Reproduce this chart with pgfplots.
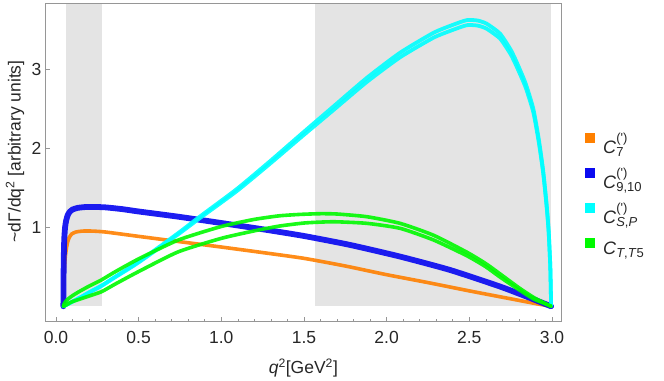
\documentclass[border=0pt]{standalone}
\usepackage{pgfplots}
\pgfplotsset{compat=1.18}
\usepackage{fontspec}
\setmainfont{Liberation Sans}
\definecolor{cOrange}{RGB}{255,128,0}
\definecolor{cBlue}{RGB}{10,10,240}
\definecolor{cCyan}{RGB}{0,255,255}
\definecolor{cGreen}{RGB}{0,250,0}
\definecolor{shade}{RGB}{228,228,228}
\definecolor{frame}{RGB}{150,150,150}
\newcommand\fsz[1]{\fontsize{#1}{#1}\selectfont}
\newcommand\Cw[2]{\textit{C}\rlap{\raisebox{11.5bp}{\fsz{13bp}(\textquotesingle)}}\raisebox{-3bp}{\fsz{13bp}#2}}
\begin{document}
\begin{tikzpicture}
\begin{axis}[
  name=main,
  scale only axis,
  width=516.7bp, height=318.4bp,
  xmin=-0.0665, xmax=3.059,
  ymin=-0.195, ymax=3.835,
  axis on top,
  axis line style={frame, line width=0.7bp},
  xtick={0,0.5,1,1.5,2,2.5,3},
  minor x tick num=4,
  ytick={1,2,3},
  xtick pos=bottom, ytick pos=left,
  tick align=inside,
  major tick length=5bp, minor tick length=3bp,
  tick style={frame, line width=0.6bp},
  /pgf/number format/assume math mode=true,
  xticklabel style={/pgf/number format/.cd, fixed, fixed zerofill, precision=1, /tikz/.cd, anchor=base, inner sep=0pt, yshift=-21.5bp},
  yticklabel style={anchor=east, inner sep=0pt, xshift=-3.5bp},
  tick label style={font=\fsz{17.5bp}, text=black!85},
  every axis x label/.style={at={(axis description cs:0.5,-0.145)}, anchor=center, font=\fsz{17.5bp}, text=black!85},
  every axis y label/.style={at={(axis description cs:-0.058,0.535)}, anchor=center, rotate=90, font=\fsz{17.5bp}, text=black!85},
  xlabel={\textit{q}\textsuperscript{2}[GeV\textsuperscript{2}]},
  ylabel={\textasciitilde dΓ/dq\textsuperscript{2} [arbitrary units]},
  legend image code/.code={\fill[#1, draw=none, opacity=1] (0bp,1bp) rectangle (10bp,11bp);},
  legend style={draw=none, fill=none, at={(1.0451,0.40)}, anchor=west, inner sep=0pt,
    row sep=12.5bp, font=\fsz{18bp}, nodes={inner sep=0pt, text=black!85},
    /tikz/every odd column/.append style={column sep=8bp}},
  legend cell align={left},
]
% shaded bins
\addplot[fill=shade, draw=none, forget plot] coordinates {(0.06,3.835) (0.276,3.835)} \closedcycle;
\addplot[fill=shade, draw=none, forget plot] coordinates {(1.567,3.835) (2.993,3.835)} \closedcycle;

% C7
\addplot[color=cOrange, line width=3.6bp, opacity=0.9, smooth, tension=0.35, line cap=round, line join=round]
coordinates {(0.0447,0) (0.0465,0.25) (0.05,0.45) (0.055,0.6) (0.062,0.72) (0.07,0.81) (0.08,0.87) (0.095,0.915) (0.12,0.94) (0.16,0.952) (0.22,0.952) (0.3,0.94) (0.5,0.885) (0.74,0.82) (1.0,0.75) (1.25,0.68) (1.5,0.607) (1.75,0.51) (2.0,0.40) (2.25,0.30) (2.5,0.195) (2.75,0.095) (2.9,0.035) (2.995,0)};
\addlegendentry{\Cw{}{7}}

% C9,10
\addplot[color=cBlue, line width=5.8bp, opacity=0.92, smooth, tension=0.35, line cap=round, line join=round]
coordinates {(0.0447,0) (0.0455,0.3) (0.047,0.6) (0.05,0.85) (0.055,1.0) (0.062,1.09) (0.072,1.16) (0.085,1.2) (0.1,1.225) (0.13,1.245) (0.17,1.255) (0.22,1.258) (0.3,1.252) (0.4,1.23) (0.5,1.20) (0.74,1.134) (1.0,1.054) (1.25,0.975) (1.5,0.89) (1.78,0.776) (2.08,0.63) (2.383,0.46) (2.686,0.25) (2.85,0.12) (2.995,0)};
\addlegendentry{\Cw{}{9,10}}

% CS,P
\addplot[color=cCyan, line width=3.8bp, opacity=0.9, smooth, tension=0.35, line cap=round, line join=round]
coordinates {(0.0447,0) (0.07,0.0248) (0.1,0.0595) (0.15,0.114) (0.2,0.173) (0.276,0.258) (0.35,0.357) (0.5,0.555) (0.74,0.912) (0.86,1.100) (1.093,1.457) (1.3,1.814) (1.476,2.128) (1.678,2.483) (1.88,2.839) (2.081,3.151) (2.283,3.399) (2.4,3.498) (2.485,3.558) (2.55,3.553) (2.605,3.513) (2.686,3.389) (2.75,3.191) (2.787,3.032) (2.84,2.775) (2.887,2.458) (2.92,2.081) (2.947,1.685) (2.968,1.259) (2.98,0.941) (2.99,0.4955) (2.995,0)};
\addlegendentry{\Cw{}{\textit{S},\textit{P}}}
\addplot[color=cCyan, line width=3.8bp, opacity=0.9, smooth, tension=0.35, line cap=round, line join=round, forget plot]
coordinates {(0.0447,0) (0.07,0.0252) (0.1,0.0605) (0.15,0.116) (0.2,0.177) (0.276,0.262) (0.35,0.363) (0.5,0.565) (0.74,0.928) (0.86,1.120) (1.093,1.483) (1.3,1.846) (1.476,2.166) (1.678,2.529) (1.88,2.891) (2.081,3.209) (2.283,3.461) (2.4,3.562) (2.485,3.622) (2.55,3.617) (2.605,3.577) (2.686,3.451) (2.75,3.249) (2.787,3.088) (2.84,2.825) (2.887,2.502) (2.92,2.119) (2.947,1.715) (2.968,1.281) (2.98,0.959) (2.99,0.5045) (2.995,0)};

% CT,T5
\addplot[color=cGreen, line width=3.6bp, opacity=0.9, smooth, tension=0.35, line cap=round, line join=round]
coordinates {(0.0447,0) (0.05,0.035) (0.06,0.065) (0.074,0.095) (0.1,0.135) (0.135,0.18) (0.2,0.255) (0.276,0.335) (0.357,0.436) (0.5,0.6) (0.74,0.839) (1.0,1.01) (1.2,1.10) (1.35,1.145) (1.476,1.163) (1.6,1.172) (1.7,1.168) (1.88,1.134) (2.081,1.05) (2.283,0.90) (2.485,0.685) (2.6,0.54) (2.686,0.41) (2.8,0.235) (2.887,0.115) (2.95,0.045) (2.995,0)};
\addlegendentry{\textit{C}\raisebox{-3bp}{\fsz{13bp}\textit{T},\textit{T}5}}
\addplot[color=cGreen, line width=3.6bp, opacity=0.9, smooth, tension=0.35, line cap=round, line join=round, forget plot]
coordinates {(0.0447,0) (0.06,0.015) (0.08,0.04) (0.1,0.06) (0.15,0.095) (0.2,0.13) (0.276,0.185) (0.357,0.28) (0.5,0.44) (0.74,0.69) (1.0,0.86) (1.2,0.955) (1.35,1.015) (1.506,1.055) (1.678,1.07) (1.88,1.05) (2.081,0.987) (2.283,0.84) (2.485,0.64) (2.6,0.50) (2.686,0.37) (2.8,0.21) (2.887,0.095) (2.95,0.04) (2.995,0)};
\end{axis}
\pgfresetboundingbox
\useasboundingbox (main.south west) ++(-45bp,-59.3bp) rectangle ++(664bp,381bp);
\end{tikzpicture}
\end{document}
